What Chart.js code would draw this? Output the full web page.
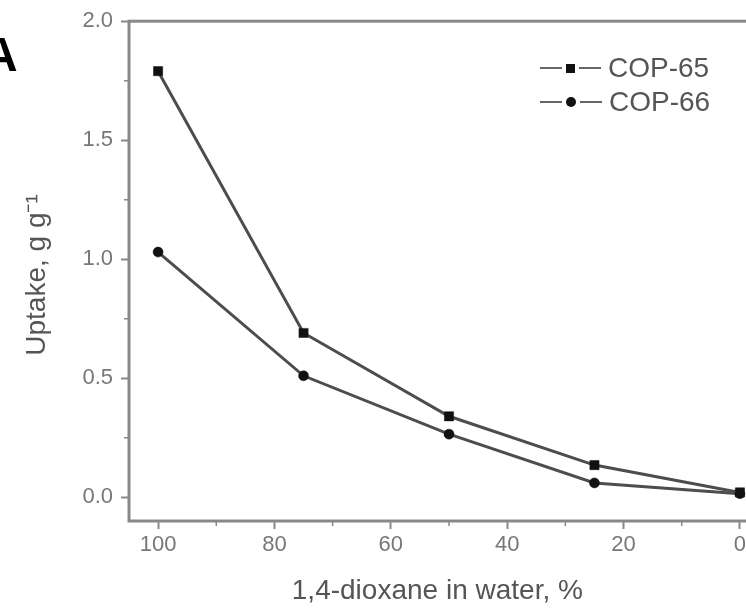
<!DOCTYPE html>
<html>
<head>
<meta charset="utf-8">
<script src="https://cdn.jsdelivr.net/npm/chart.js@4.4.1/dist/chart.umd.min.js"></script>
<style>
  html, body { margin: 0; padding: 0; background: #fff; overflow: hidden; width: 746px; height: 612px; }
  #wrap { position: relative; width: 800px; height: 612px; }
  #panel { position: absolute; left: -17px; top: 27px; font: bold 48px 'Liberation Sans', Arial, sans-serif; color: #000; }
  #legend { position: absolute; left: 540px; top: 51px; font: 28px 'Liberation Sans', Arial, sans-serif; color: #555; }
  .row { display: flex; align-items: center; height: 34px; }
  .seg { width: 22px; height: 0; border-top: 2.5px solid #666; }
  .mk { width: 9px; height: 9px; background: #111; margin: 0 4px; }
  .mk.circle { border-radius: 50%; width: 10px; height: 10px; }
  .lbl { margin-left: 7px; line-height: 34px; }
</style>
</head>
<body>
<div id="wrap">
  <canvas id="chart"></canvas>
  <div id="panel">A</div>
  <div id="legend"></div>
</div>
<script>
'use strict';

// ── Data ──────────────────────────────────────────────────────
const dioxane = [100, 75, 50, 25, 0];
const cop65   = [1.79, 0.69, 0.34, 0.135, 0.02];
const cop66   = [1.03, 0.51, 0.265, 0.06, 0.015];
const seriesNames  = ['COP-65', 'COP-66'];
const seriesShapes = ['rect', 'circle'];

const xTicks      = [100, 80, 60, 40, 20, 0];
const xMinorTicks = [90, 70, 50, 30, 10];
const yTicks      = [0.0, 0.5, 1.0, 1.5, 2.0];
const yMinorTicks = [0.25, 0.75, 1.25, 1.75];

const FONT = "'Liberation Sans', Arial, sans-serif";
const AXIS = '#888';
const LINE = '#4d4d4d';

// ── Frame + minor ticks ───────────────────────────────────────
const framePlugin = {
  id: 'frame',
  afterDraw(chart) {
    const { ctx, chartArea: a, scales } = chart;
    ctx.save();
    ctx.strokeStyle = AXIS;
    ctx.lineWidth = 3;
    ctx.strokeRect(a.left, a.top, a.right - a.left, a.bottom - a.top);
    ctx.lineWidth = 1.5;
    ctx.beginPath();
    xMinorTicks.forEach(v => {
      const px = scales.x.getPixelForValue(v);
      ctx.moveTo(px, a.bottom); ctx.lineTo(px, a.bottom + 5);
    });
    yMinorTicks.forEach(v => {
      const py = scales.y.getPixelForValue(v);
      ctx.moveTo(a.left, py); ctx.lineTo(a.left - 5, py);
    });
    ctx.stroke();
    ctx.restore();
  }
};

const values = [cop65, cop66];
const datasets = seriesNames.map((name, i) => ({
  label: name,
  data: dioxane.map((x, j) => ({ x, y: values[i][j] })),
  borderColor: LINE,
  borderWidth: 3,
  pointStyle: seriesShapes[i],
  pointRadius: seriesShapes[i] === 'rect' ? 6.5 : 5,
  pointBackgroundColor: '#111',
  pointBorderColor: '#111',
  pointBorderWidth: 0.5,
  tension: 0,
}));

new Chart(document.getElementById('chart'), {
  type: 'line',
  data: { datasets },
  options: {
    responsive: true,
    maintainAspectRatio: false,
    animation: false,
    layout: { padding: { top: 18, right: 31, left: 0, bottom: 0 } },
    plugins: { legend: { display: false }, tooltip: { enabled: false } },
    scales: {
      x: {
        type: 'linear', reverse: true, min: -5, max: 105,
        afterBuildTicks: s => { s.ticks = xTicks.map(v => ({ value: v })); },
        afterFit: s => { s.height = 91; },
        grid: { drawOnChartArea: false, tickLength: 8, tickColor: AXIS, tickWidth: 2 },
        border: { display: false },
        ticks: { color: '#777', font: { family: FONT, size: 22 }, padding: 3, maxRotation: 0 },
        title: { display: true, text: '1,4-dioxane in water, %\u00a0\u00a0\u00a0', color: '#555',
                 font: { family: FONT, size: 28 }, padding: { top: 0, bottom: 4 } }
      },
      y: {
        type: 'linear', min: -0.1, max: 2.0,
        afterBuildTicks: s => { s.ticks = yTicks.map(v => ({ value: v })); },
        afterFit: s => { s.width = 129; },
        grid: { drawOnChartArea: false, tickLength: 8, tickColor: AXIS, tickWidth: 2 },
        border: { display: false },
        ticks: { color: '#777', font: { family: FONT, size: 22 }, padding: 8,
                 callback: v => v.toFixed(1) },
        title: { display: true, text: 'Uptake, g g\u207b\u00b9\u00a0', color: '#555',
                 font: { family: FONT, size: 28 }, padding: { top: 20, bottom: 0 } }
      }
    }
  },
  plugins: [framePlugin]
});

// ── HTML legend inside the plot ───────────────────────────────
document.getElementById('legend').innerHTML = seriesNames.map((name, i) => `
  <div class="row">
    <span class="seg"></span>
    <span class="mk ${seriesShapes[i] === 'circle' ? 'circle' : ''}"></span>
    <span class="seg"></span>
    <span class="lbl">${name}</span>
  </div>`).join('');
</script>
</body>
</html>
